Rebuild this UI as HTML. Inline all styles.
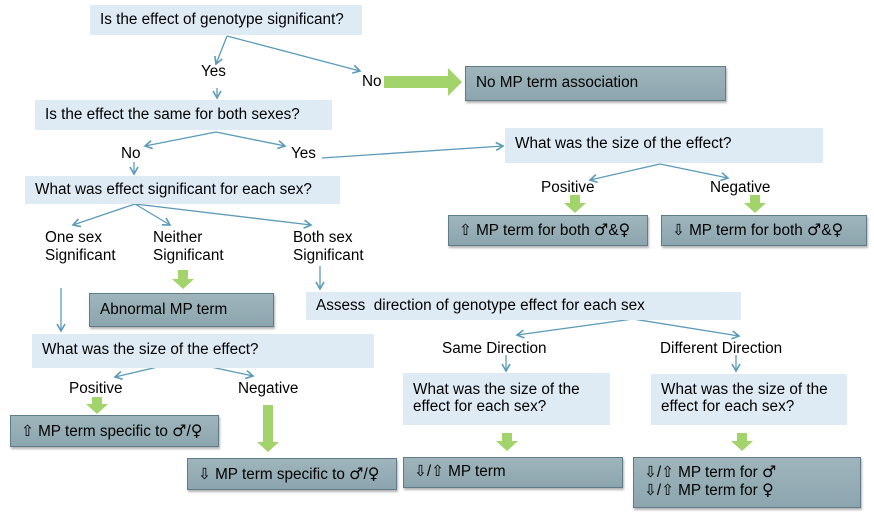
<!DOCTYPE html>
<html><head><meta charset="utf-8"><style>
body{margin:0;width:874px;height:518px;background:#fff;position:relative;overflow:hidden;font-family:"Liberation Sans","DejaVu Sans",sans-serif;font-size:15.3px;color:#000}
.q{position:absolute;background:#deebf5;box-sizing:border-box;padding-left:10px;line-height:17px;white-space:nowrap}
.g{position:absolute;background:linear-gradient(#9fb5bc,#8ca5ae);border:1.5px solid #5f7c88;box-sizing:border-box;padding-left:10px;box-shadow:1px 2px 2px rgba(0,0,0,.3);line-height:17px;white-space:nowrap}
.t{position:absolute;line-height:18px;white-space:nowrap}
.s{font-family:"DejaVu Sans",sans-serif;font-size:16px;font-weight:normal}
svg{position:absolute;left:0;top:0}
</style></head><body>
<svg width="874" height="518">
<defs><marker id="a" markerWidth="10" markerHeight="10" refX="8" refY="5" orient="auto" markerUnits="userSpaceOnUse"><path d="M1,1 L8,5 L1,9" fill="none" stroke="#5b9ab8" stroke-width="1.6"/></marker></defs>
<g stroke="#5b9ab8" stroke-width="1.3" fill="none" marker-end="url(#a)">
<line x1="227" y1="36" x2="216" y2="64"/>
<line x1="227" y1="36" x2="360" y2="71"/>
<line x1="217" y1="88" x2="217" y2="98"/>
<line x1="216" y1="132" x2="145" y2="146"/>
<line x1="216" y1="132" x2="285" y2="146"/>
<line x1="134" y1="162" x2="134" y2="174"/>
<line x1="322" y1="158" x2="503" y2="146"/>
<line x1="135" y1="204" x2="73" y2="225"/>
<line x1="135" y1="204" x2="170" y2="225"/>
<line x1="135" y1="204" x2="311" y2="225"/>
<line x1="660" y1="164" x2="590" y2="180"/>
<line x1="660" y1="164" x2="728" y2="178"/>
<line x1="320" y1="266" x2="320" y2="289"/>
<line x1="61" y1="288" x2="61" y2="331"/>
<line x1="183" y1="361" x2="115" y2="377"/>
<line x1="183" y1="361" x2="253" y2="376"/>
<line x1="633" y1="319" x2="517" y2="335"/>
<line x1="633" y1="319" x2="739" y2="336"/>
<line x1="506" y1="355" x2="506" y2="371"/>
<line x1="736" y1="355" x2="736" y2="371"/>
</g>
<g fill="#a3d46c">
<path d="M384,76 H448 V68 L462,82 L448,96 V88 H384 Z"/>
<path d="M570,195 H580 V203 H586 L575,213 L564,203 H570 Z"/>
<path d="M750,195 H760 V203 H766 L755,213 L744,203 H750 Z"/>
<path d="M178,270 H188 V279 H194 L183,289 L172,279 H178 Z"/>
<path d="M92,397 H102 V404 H108 L97,414 L86,404 H92 Z"/>
<path d="M263,405 H273 V442 H279 L268,452 L257,442 H263 Z"/>
<path d="M502,433 H512 V441 H518 L507,451 L496,441 H502 Z"/>
<path d="M737,433 H747 V441 H753 L742,451 L731,441 H737 Z"/>
</g>
</svg>
<div class="q" style="left:90px;top:5px;width:272px;height:30px;line-height:30px">Is the effect of genotype significant?</div>
<div class="t" style="left:201px;top:63px">Yes</div>
<div class="t" style="left:362px;top:73px">No</div>
<div class="g" style="left:465px;top:66px;width:261px;height:35px;line-height:31px">No MP term association</div>
<div class="q" style="left:35px;top:100px;width:297px;height:30px;line-height:30px">Is the effect the same for both sexes?</div>
<div class="t" style="left:121px;top:145px">No</div>
<div class="t" style="left:291px;top:145px">Yes</div>
<div class="q" style="left:505px;top:128px;width:318px;height:35px;line-height:32px">What was the size of the effect?</div>
<div class="t" style="left:541px;top:179px">Positive</div>
<div class="t" style="left:710px;top:179px">Negative</div>
<div class="g" style="left:448px;top:215px;width:200px;height:31px;line-height:28px">⇧ MP term for both <span class="s">♂</span>&amp;<span class="s">♀</span></div>
<div class="g" style="left:661px;top:215px;width:206px;height:31px;line-height:28px">⇩ MP term for both <span class="s">♂</span>&amp;<span class="s">♀</span></div>
<div class="q" style="left:25px;top:176px;width:315px;height:28px;line-height:28px">What was effect significant for each sex?</div>
<div class="t" style="left:45px;top:229px">One sex<br>Significant</div>
<div class="t" style="left:153px;top:229px">Neither<br>Significant</div>
<div class="t" style="left:293px;top:229px">Both sex<br>Significant</div>
<div class="g" style="left:89px;top:293px;width:185px;height:34px;line-height:31px">Abnormal MP term</div>
<div class="q" style="left:306px;top:292px;width:435px;height:28px;line-height:28px">Assess&nbsp; direction of genotype effect for each sex</div>
<div class="q" style="left:32px;top:334px;width:342px;height:34px;line-height:32px">What was the size of the effect?</div>
<div class="t" style="left:69px;top:380px">Positive</div>
<div class="t" style="left:238px;top:380px">Negative</div>
<div class="g" style="left:10px;top:415px;width:209px;height:32px;line-height:29px">⇧ MP term specific to <span class="s">♂</span>/<span class="s">♀</span></div>
<div class="g" style="left:187px;top:458px;width:210px;height:32px;line-height:29px">⇩ MP term specific to <span class="s">♂</span>/<span class="s">♀</span></div>
<div class="t" style="left:442px;top:340px">Same Direction</div>
<div class="t" style="left:660px;top:340px">Different Direction</div>
<div class="q" style="left:403px;top:373px;width:207px;height:52px;padding-top:8px">What was the size of the<br>effect for each sex?</div>
<div class="q" style="left:651px;top:374px;width:196px;height:51px;padding-top:7px">What was the size of the<br>effect for each sex?</div>
<div class="g" style="left:403px;top:457px;width:220px;height:31px;line-height:28px">⇩/⇧ MP term</div>
<div class="g" style="left:633px;top:457px;width:228px;height:51px;padding-top:5px">⇩/⇧ MP term for <span class="s">♂</span><br>⇩/⇧ MP term for <span class="s">♀</span></div>
</body></html>
